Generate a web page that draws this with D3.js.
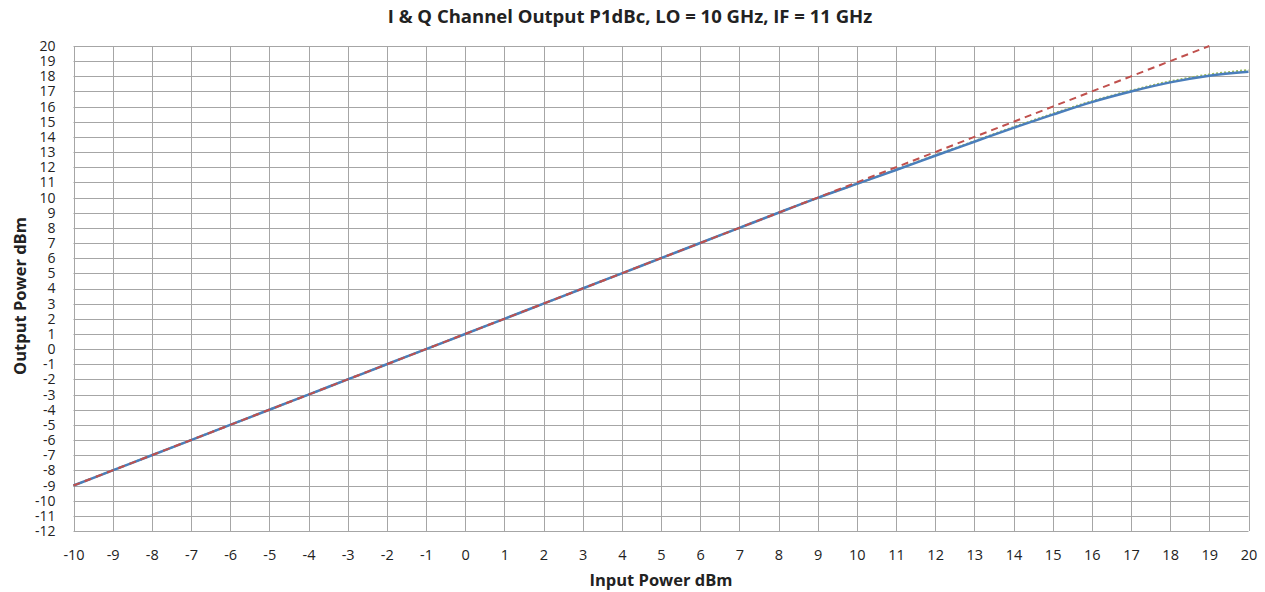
<!DOCTYPE html>
<html>
<head>
<meta charset="utf-8">
<script src="https://d3js.org/d3.v7.min.js"></script>
<title>P1dBc</title>
<style>
body { margin: 0; background: #fff; }
text { font-family: "Open Sans", "Liberation Sans", sans-serif; fill: #222; }
</style>
</head>
<body>
<script>

// input power (dBm)
var inputPower = [-10,-9,-8,-7,-6,-5,-4,-3,-2,-1,0,1,2,3,4,5,6,7,8,9,10,11,12,13,14,15,16,17,18,19,20];

// measured output, I channel (blue) and Q channel (green dotted)
var iOut = [-9,-8,-7,-6,-5,-4,-3,-2,-1,0,1,2,3,4,5,6,7,8,9,9.98,10.9,11.82,12.76,13.68,14.6,15.47,16.3,17.0,17.6,18.04,18.3];
var qOut = [-9,-8,-7,-6,-5,-4,-3,-2,-1,0,1,2,3,4,5,6,7,8,9,9.98,10.9,11.84,12.79,13.72,14.65,15.53,16.36,17.06,17.67,18.12,18.42];

// ideal linear response (red dashed)
var refIn  = [-10,-9,-8,-7,-6,-5,-4,-3,-2,-1,0,1,2,3,4,5,6,7,8,9,10,11,12,13,14,15,16,17,18,19];
var refOut = [-9,-8,-7,-6,-5,-4,-3,-2,-1,0,1,2,3,4,5,6,7,8,9,10,11,12,13,14,15,16,17,18,19,20];

var xTicks = d3.range(-10, 21, 1);
var yTicks = d3.range(-12, 21, 1);

var width = 1265,
    height = 592;

var svg = d3.select("body")
  .append("svg")
  .attr("width", width)
  .attr("height", height);

var pLeft = 73.5, pRight = 1248.5, pTop = 46, pBottom = 531;

var x = d3.scaleLinear().domain([-10, 20]).range([pLeft, pRight]);
var y = d3.scaleLinear().domain([-12, 20]).range([pBottom, pTop]);

var fmt = function(d) { return String(d); };

// grid
var grid = svg.append("g");
grid.selectAll("line.v")
  .data(xTicks)
  .enter().append("line")
  .attr("x1", function(d) { return Math.round(x(d)) + 0.5; })
  .attr("x2", function(d) { return Math.round(x(d)) + 0.5; })
  .attr("y1", pTop).attr("y2", pBottom)
  .attr("stroke", "#a6a6a6").attr("stroke-width", 1);
grid.selectAll("line.h")
  .data(yTicks)
  .enter().append("line")
  .attr("y1", function(d) { return Math.round(y(d)) + 0.5; })
  .attr("y2", function(d) { return Math.round(y(d)) + 0.5; })
  .attr("x1", pLeft).attr("x2", pRight)
  .attr("stroke", "#a6a6a6").attr("stroke-width", 1);

// axes (labels only)
var xAxis = svg.append("g")
  .attr("transform", "translate(0," + (pBottom + 16) + ")")
  .call(d3.axisBottom(x).tickValues(xTicks).tickSize(0).tickFormat(fmt));
xAxis.select(".domain").remove();
xAxis.selectAll("text").attr("font-size", 14.5).style("font-family", "Open Sans, sans-serif").attr("fill", "#222");

var yAxis = svg.append("g")
  .attr("transform", "translate(" + (pLeft - 15) + ",0)")
  .call(d3.axisLeft(y).tickValues(yTicks).tickSize(0).tickFormat(fmt));
yAxis.select(".domain").remove();
yAxis.selectAll("text").attr("font-size", 14).style("font-family", "Open Sans, sans-serif").attr("fill", "#222");

// series
var line = d3.line()
  .x(function(d) { return x(d[0]); })
  .y(function(d) { return y(d[1]); })
  .curve(d3.curveCatmullRom);

// Q channel underneath so it only peeks out where it differs
svg.append("path")
  .datum(d3.zip(inputPower, qOut))
  .attr("fill", "none")
  .attr("stroke", "#9bbb59")
  .attr("stroke-width", 2)
  .attr("stroke-dasharray", "2,2")
  .attr("d", line);

svg.append("path")
  .datum(d3.zip(inputPower, iOut))
  .attr("fill", "none")
  .attr("stroke", "#4a7ebb")
  .attr("stroke-width", 2.5)
  .attr("d", line);

svg.append("path")
  .datum(d3.zip(refIn, refOut))
  .attr("fill", "none")
  .attr("stroke", "#c0504d")
  .attr("stroke-width", 2)
  .attr("stroke-dasharray", "7,5")
  .attr("d", line);

// titles
svg.append("text")
  .attr("x", 630).attr("y", 23)
  .attr("text-anchor", "middle")
  .attr("font-size", 18.5).attr("font-weight", "bold")
  .text("I & Q Channel Output P1dBc, LO = 10 GHz, IF = 11 GHz");

svg.append("text")
  .attr("x", 661).attr("y", 586)
  .attr("text-anchor", "middle")
  .attr("font-size", 16.5).attr("font-weight", "bold")
  .text("Input Power dBm");

svg.append("text")
  .attr("transform", "translate(26,296) rotate(-90)")
  .attr("text-anchor", "middle")
  .attr("font-size", 16.5).attr("font-weight", "bold")
  .text("Output Power dBm");

</script>
</body>
</html>
